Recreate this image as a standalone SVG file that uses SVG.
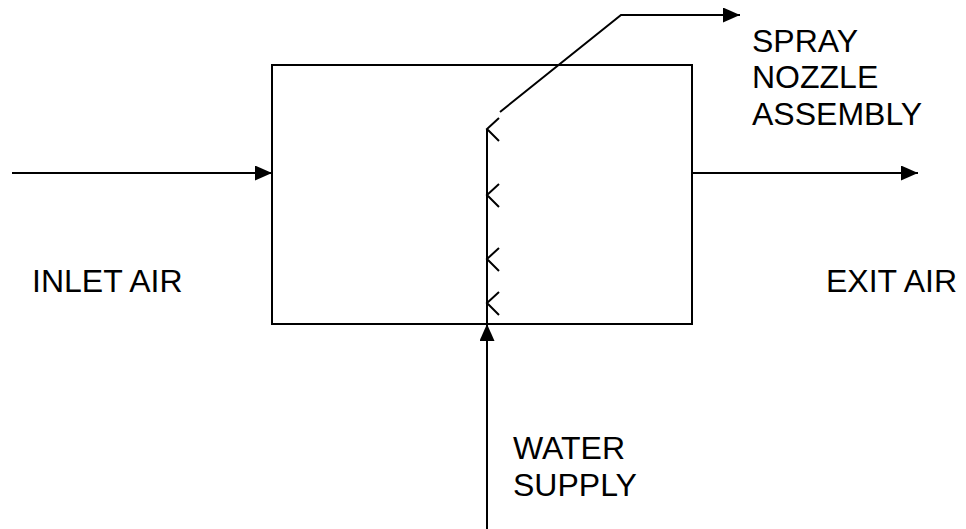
<svg xmlns="http://www.w3.org/2000/svg" width="966" height="529" viewBox="0 0 966 529">
<style>
.ln{stroke:#000;stroke-width:2;fill:none}
.ah{fill:#000;stroke:none}
.t{font-family:"Liberation Sans",Arial,sans-serif;font-size:32px;fill:#000}
</style>
<defs>
<marker id="fa" markerWidth="17" markerHeight="15" refX="17" refY="7.5" orient="auto" markerUnits="userSpaceOnUse">
<path d="M0,0 L17,7.5 L0,15 Z" class="ah"/>
</marker>
</defs>
<rect width="966" height="529" fill="#fff"/>
<g id="chamber">
<rect x="272" y="65" width="420" height="259" class="ln"/>
</g>
<g id="nozzle-manifold">
<line x1="487" y1="129" x2="487" y2="324" class="ln"/>
<path d="M499,118 L487,129 L499,141 M499,184 L487,195 L499,207 M499,248 L487,259 L499,271 M499,292 L487,303 L499,315" class="ln" stroke-width="1.5"/>
</g>
<g id="labels">
<text class="t" x="32" y="292">INLET AIR</text>
<text class="t" x="826" y="292">EXIT AIR</text>
<text class="t" x="513" y="459">WATER</text>
<text class="t" x="513" y="496">SUPPLY</text>
<text class="t" x="752" y="52">SPRAY</text>
<text class="t" x="752" y="88">NOZZLE</text>
<text class="t" x="752" y="125">ASSEMBLY</text>
</g>
<g id="connectors">
<line x1="12" y1="173" x2="272" y2="173" class="ln" marker-end="url(#fa)"/>
<line x1="692" y1="173" x2="918" y2="173" class="ln" marker-end="url(#fa)"/>
<line x1="487" y1="529" x2="487" y2="324" class="ln" marker-end="url(#fa)"/>
<polyline points="500,112 621,15 740,15" class="ln" marker-end="url(#fa)"/>
</g>
</svg>
